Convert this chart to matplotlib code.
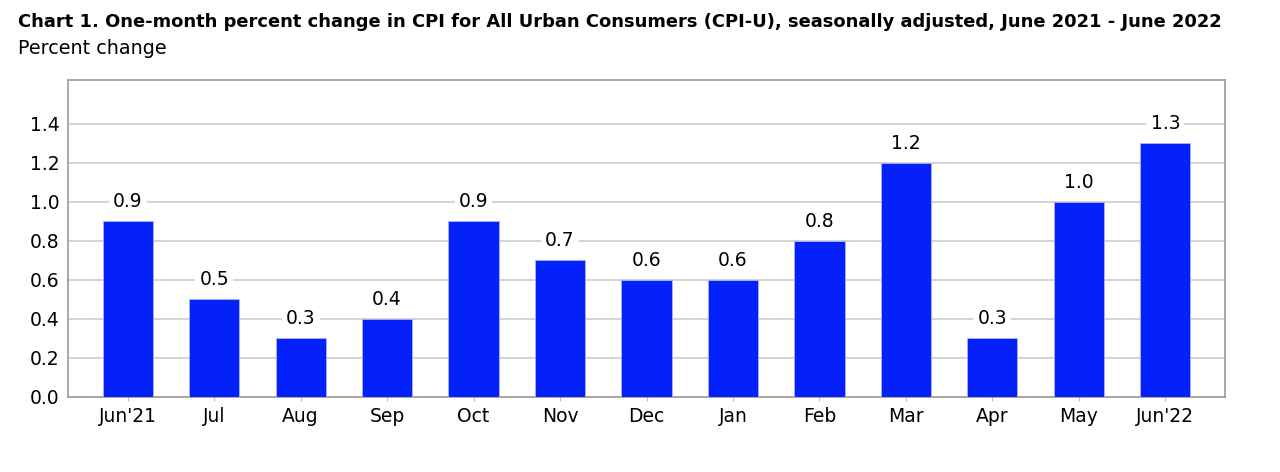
import matplotlib
matplotlib.use("Agg")
import matplotlib.pyplot as plt

months = ["Jun'21", "Jul", "Aug", "Sep", "Oct", "Nov", "Dec", "Jan", "Feb", "Mar", "Apr", "May", "Jun'22"]
values = [0.9, 0.5, 0.3, 0.4, 0.9, 0.7, 0.6, 0.6, 0.8, 1.2, 0.3, 1.0, 1.3]
yticks = [0.0, 0.2, 0.4, 0.6, 0.8, 1.0, 1.2, 1.4]

plt.rcParams['font.family'] = ['DejaVu Sans']
fig = plt.figure(figsize=(12.8, 4.72), dpi=100)
ax = fig.add_axes([68/1280, 1-397/472, (1225-68)/1280, (397-80)/472])

x = range(len(months))
ax.bar(x, values, width=0.58, color='#0521F9', edgecolor='#aab4ff', linewidth=0.6, zorder=3)
for xi, v in zip(x, values):
    ax.text(xi, v + 0.1, f"{v:.1f}", ha='center', va='center', fontsize=13.5,
            bbox=dict(facecolor='white', edgecolor='none', pad=3), zorder=4)

ax.set_xlim(-0.69, len(months) - 1 + 0.69)
ax.set_ylim(0, 1.625)
ax.set_yticks(yticks)
ax.set_yticklabels([f"{t:.1f}" for t in yticks], fontsize=13.5)
ax.set_xticks(list(x))
ax.set_xticklabels(months, fontsize=13.5)
ax.yaxis.grid(True, color='#cccccc', linewidth=1.2, zorder=0)
ax.set_axisbelow(True)
for s in ax.spines.values():
    s.set_color('#999999')
    s.set_linewidth(1.2)
ax.tick_params(axis='y', length=0, pad=6)
ax.tick_params(axis='x', length=3, color='#bbbbbb', pad=4)

fig.text(18/1280, 1-22/472, "Chart 1. One-month percent change in CPI for All Urban Consumers (CPI-U), seasonally adjusted, June 2021 - June 2022",
         fontsize=12.9, fontweight='bold', va='center', ha='left')
fig.text(18/1280, 1-48/472, "Percent change", fontsize=13.8, va='center', ha='left')

fig.savefig("out.png", dpi=100, facecolor='white')
